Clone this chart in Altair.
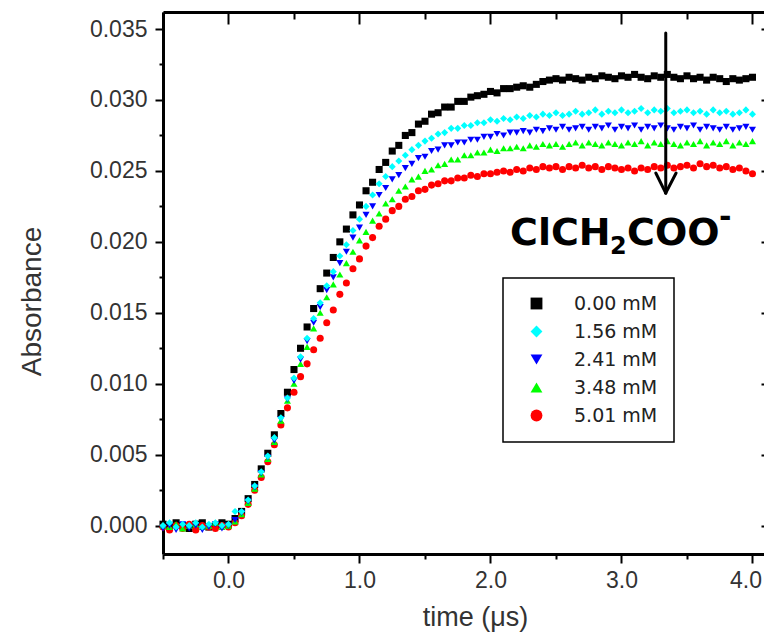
import altair as alt
import pandas as pd

# ---------------- data ----------------
TIME = [-0.50, -0.45, -0.40, -0.35, -0.30, -0.25, -0.20, -0.15, -0.10, -0.05, 0.00,
        0.05, 0.10, 0.15, 0.20, 0.25, 0.30, 0.35, 0.40, 0.45,
        0.50, 0.55, 0.60, 0.65, 0.70, 0.75, 0.80, 0.85, 0.90, 0.95,
        1.00, 1.05, 1.10, 1.15, 1.20, 1.25, 1.30, 1.35, 1.40, 1.45,
        1.50, 1.55, 1.60, 1.65, 1.70, 1.75, 1.80, 1.85, 1.90, 1.95,
        2.00, 2.05, 2.10, 2.15, 2.20, 2.25, 2.30, 2.35, 2.40, 2.45,
        2.50, 2.55, 2.60, 2.65, 2.70, 2.75, 2.80, 2.85, 2.90, 2.95,
        3.00, 3.05, 3.10, 3.15, 3.20, 3.25, 3.30, 3.35, 3.40, 3.45,
        3.50, 3.55, 3.60, 3.65, 3.70, 3.75, 3.80, 3.85, 3.90, 3.95, 4.00]

# absorbance in units of 10^-3
ABS_000 = [0.1, -0.1, 0.2, 0.0, -0.2, 0.1, 0.2, -0.1, 0.0, 0.2, 0.1,
           0.5, 1.0, 1.9, 2.9, 4.0, 5.1, 6.4, 7.9, 9.4,
           11.0, 12.5, 14.0, 15.3, 16.7, 17.8, 18.9, 20.0, 20.9, 21.9,
           22.6, 23.6, 24.2, 25.1, 25.6, 26.4, 26.8, 27.5, 27.7, 28.3,
           28.5, 29.0, 29.1, 29.5, 29.5, 29.9, 29.9, 30.2, 30.3, 30.4,
           30.6, 30.5, 30.8, 30.8, 30.9, 31.0, 30.9, 31.1, 31.3, 31.4,
           31.5, 31.4, 31.6, 31.5, 31.4, 31.6, 31.5, 31.7, 31.6, 31.5,
           31.7, 31.6, 31.8, 31.6, 31.5, 31.7, 31.6, 31.8, 31.6, 31.5,
           31.7, 31.5, 31.6, 31.4, 31.6, 31.5, 31.3, 31.5, 31.4, 31.5, 31.6]
ABS_156 = [0.0, 0.2, -0.1, 0.1, 0.0, 0.2, -0.1, 0.1, 0.2, 0.0, 0.1,
           1.0, 1.0, 1.8, 2.8, 3.8, 4.9, 6.2, 7.6, 9.0,
           10.4, 11.9, 13.2, 14.6, 15.7, 16.9, 17.9, 19.0, 19.8, 20.8,
           21.6, 22.5, 23.3, 24.1, 24.6, 25.3, 25.7, 26.1, 26.5, 26.8,
           27.1, 27.3, 27.6, 27.7, 28.0, 28.0, 28.2, 28.2, 28.4, 28.4,
           28.6, 28.5, 28.7, 28.6, 28.8, 28.7, 28.9, 28.8, 29.0, 28.9,
           29.1, 28.9, 29.0, 29.2, 29.0, 29.1, 29.3, 29.0, 29.2, 29.1,
           29.3, 29.1, 29.2, 29.4, 29.1, 29.3, 29.2, 29.4, 29.1, 29.2,
           29.3, 29.1, 29.2, 29.0, 29.3, 29.1, 29.2, 29.0, 29.1, 29.3, 29.0]
ABS_241 = [-0.2, 0.0, -0.3, 0.1, -0.2, 0.0, -0.3, -0.1, 0.1, -0.2, 0.0,
           0.4, 0.9, 1.7, 2.7, 3.7, 4.8, 6.0, 7.5, 8.9,
           10.2, 11.7, 13.0, 14.3, 15.4, 16.6, 17.5, 18.5, 19.3, 20.3,
           21.0, 21.9, 22.5, 23.3, 23.8, 24.4, 24.7, 25.2, 25.5, 25.9,
           26.0, 26.4, 26.5, 26.8, 26.8, 27.0, 27.0, 27.2, 27.2, 27.4,
           27.4, 27.6, 27.5, 27.7, 27.7, 27.8, 27.7, 27.9, 27.8, 28.0,
           27.9, 28.1, 27.9, 28.0, 28.1, 27.9, 28.1, 28.0, 28.2, 27.9,
           28.1, 28.0, 28.2, 27.9, 28.1, 28.0, 28.2, 28.0, 27.9, 28.1,
           28.0, 28.2, 27.9, 28.1, 28.0, 27.9, 28.1, 27.9, 28.0, 28.1, 27.9]
ABS_348 = [0.0, -0.1, 0.1, -0.2, 0.0, 0.1, -0.1, 0.0, 0.2, -0.1, 0.0,
           0.3, 0.8, 1.6, 2.6, 3.6, 4.7, 5.9, 7.4, 8.8,
           10.0, 11.4, 12.6, 13.9, 15.0, 16.1, 17.0, 17.7, 18.5, 19.3,
           20.1, 20.7, 21.5, 22.0, 22.7, 23.0, 23.6, 23.9, 24.4, 24.6,
           25.0, 25.1, 25.4, 25.5, 25.8, 25.8, 26.1, 26.1, 26.3, 26.3,
           26.5, 26.4, 26.6, 26.6, 26.7, 26.6, 26.8, 26.7, 26.9, 26.8,
           26.9, 26.7, 26.9, 27.0, 26.8, 27.0, 26.9, 26.8, 27.0, 26.9,
           26.8, 27.0, 26.9, 27.1, 26.8, 27.0, 26.9, 27.1, 26.9, 26.8,
           27.0, 26.9, 27.1, 26.8, 27.0, 26.9, 27.1, 26.8, 27.0, 26.9, 27.1]
ABS_501 = [-0.1, -0.3, 0.0, -0.2, 0.1, -0.3, 0.0, -0.1, -0.2, 0.0, -0.1,
           0.2, 0.7, 1.5, 2.5, 3.4, 4.5, 5.7, 7.1, 8.3,
           9.4, 10.5, 11.4, 12.4, 13.2, 14.3, 15.2, 16.3, 17.1, 18.1,
           18.8, 19.7, 20.3, 21.1, 21.6, 22.2, 22.5, 23.0, 23.2, 23.6,
           23.7, 24.0, 24.1, 24.3, 24.3, 24.5, 24.5, 24.7, 24.6, 24.8,
           24.8, 24.9, 25.0, 24.9, 25.1, 25.0, 25.2, 25.1, 25.3, 25.2,
           25.3, 25.1, 25.3, 25.2, 25.4, 25.2, 25.3, 25.1, 25.3, 25.2,
           25.1, 25.2, 25.0, 25.2, 25.1, 25.3, 25.2, 25.4, 25.2, 25.3,
           25.4, 25.2, 25.5, 25.3, 25.4, 25.2, 25.3, 25.1, 25.2, 25.0, 24.8]

SERIES = ["0.00 mM", "1.56 mM", "2.41 mM", "3.48 mM", "5.01 mM"]
COLORS = ["#000000", "#00FFFF", "#0000FF", "#00FF00", "#FF0000"]
SHAPES = ["square", "diamond", "triangle-down", "triangle-up", "circle"]
VALUES = {"0.00 mM": ABS_000, "1.56 mM": ABS_156, "2.41 mM": ABS_241,
          "3.48 mM": ABS_348, "5.01 mM": ABS_501}
DRAW_ORDER = ["0.00 mM", "5.01 mM", "3.48 mM", "2.41 mM", "1.56 mM"]

X_MAJOR = [0, 1, 2, 3, 4]
X_MINOR = [-0.5, 0.5, 1.5, 2.5, 3.5]
Y_MAJOR = [0.000, 0.005, 0.010, 0.015, 0.020, 0.025, 0.030, 0.035]
Y_MINOR = [0.0025, 0.0075, 0.0125, 0.0175, 0.0225, 0.0275, 0.0325]

# annotation (arrow + label) in data coordinates
ARROW_X1 = [3.338, 3.262, 3.417]
ARROW_Y1 = [0.03472, 0.02485, 0.02485]
ARROW_X2 = [3.338, 3.338, 3.338]
ARROW_Y2 = [0.02344, 0.02344, 0.02344]
LABEL_TEXT = ["ClCH", "2", "COO", "-"]
LABEL_X = [2.149, 2.913, 3.043, 3.745]
LABEL_Y = [0.019778, 0.019144, 0.019778, 0.021012]
LABEL_SIZE = [38, 24, 38, 30]

# ---------------- build tables ----------------
rows = []
for name in DRAW_ORDER:
    for t, v in zip(TIME, VALUES[name]):
        rows.append({"time": t, "absorbance": v / 1000.0, "conc": name})
df = pd.DataFrame(rows)

arrow_df = pd.DataFrame({"x": ARROW_X1, "y": ARROW_Y1, "x2": ARROW_X2, "y2": ARROW_Y2})
label_df = pd.DataFrame({"text": LABEL_TEXT, "x": LABEL_X, "y": LABEL_Y, "fs": LABEL_SIZE})

xs = alt.Scale(domain=[-0.5, 4.088], nice=False, zero=False)
ys = alt.Scale(domain=[-0.002, 0.0362], nice=False, zero=False)

legend = alt.Legend(
    title=None, orient="none", legendX=340, legendY=266,
    padding=16, strokeColor="black", fillColor="white",
    symbolSize=140, symbolStrokeWidth=0, symbolOffset=8,
    labelFont="DejaVu Sans", labelFontSize=19, labelColor="#222222",
    labelOffset=28, rowPadding=8, cornerRadius=0,
)

points = alt.Chart(df).mark_point(filled=True, size=50, opacity=1).encode(
    x=alt.X("time:Q", scale=xs, axis=alt.Axis(
        orient="bottom", values=X_MAJOR, format=".1f", tickSize=9, labelPadding=6,
        domain=True, labelFlush=False, labelOverlap=False,
        labelOffset={"condition": {"test": "datum.value >= 4", "value": -7}, "value": 0},
        title="time (μs)", titleX=312, titleY=71, titleAlign="center",
        titleBaseline="alphabetic", titleFontSize=27)),
    y=alt.Y("absorbance:Q", scale=ys, axis=alt.Axis(
        orient="left", values=Y_MAJOR, format=".3f", tickSize=8, labelPadding=8,
        domain=True, labelFlush=False, labelOverlap=False,
        title="Absorbance", titleX=-123, titleY=289, titleAngle=270,
        titleAlign="center", titleBaseline="alphabetic")),
    color=alt.Color("conc:N", scale=alt.Scale(domain=SERIES, range=COLORS), legend=legend),
    shape=alt.Shape("conc:N", scale=alt.Scale(domain=SERIES, range=SHAPES), legend=legend),
)

base = df.head(2)


def ghost(xaxis, yaxis):
    return alt.Chart(base).mark_point(opacity=0).encode(
        x=alt.X("time:Q", scale=xs, axis=xaxis),
        y=alt.Y("absorbance:Q", scale=ys, axis=yaxis),
    )


minor_bl = ghost(
    alt.Axis(orient="bottom", values=X_MINOR, tickSize=5, labels=False, domain=False, title=None),
    alt.Axis(orient="left", values=Y_MINOR, tickSize=4, labels=False, domain=False, title=None),
)
top_line = ghost(
    alt.Axis(orient="top", ticks=False, labels=False, domain=True, title=None),
    None,
)
top_major = ghost(
    alt.Axis(orient="top", values=X_MAJOR, offset=-12, tickSize=12, labels=False, domain=False, title=None),
    alt.Axis(orient="right", values=Y_MAJOR, offset=-3, tickSize=3, labels=False, domain=False, title=None),
)
top_minor = ghost(
    alt.Axis(orient="top", values=X_MINOR, offset=-7, tickSize=7, labels=False, domain=False, title=None),
    None,
)

arrow = alt.Chart(arrow_df).mark_rule(color="black", strokeWidth=3, strokeCap="round").encode(
    x=alt.X("x:Q", scale=xs, axis=None),
    y=alt.Y("y:Q", scale=ys, axis=None),
    x2="x2:Q",
    y2="y2:Q",
)

label = alt.Chart(label_df).mark_text(
    align="left", baseline="alphabetic", font="DejaVu Sans", fontWeight="bold", color="black"
).encode(
    x=alt.X("x:Q", scale=xs, axis=None),
    y=alt.Y("y:Q", scale=ys, axis=None),
    text="text:N",
    size=alt.Size("fs:Q", scale=None),
)

chart = alt.layer(points, minor_bl, top_line, top_major, top_minor, arrow, label).resolve_axis(
    x="independent", y="independent"
).properties(
    width=601, height=542,
    padding={"left": 155, "top": 4, "right": 0, "bottom": 78},
    autosize=alt.AutoSizeParams(type="none"),
).configure_view(stroke=None).configure_axis(
    grid=False, domainColor="black", domainWidth=3, tickColor="black", tickWidth=2,
    labelFont="Liberation Sans", labelFontSize=23, labelColor="#333333",
    titleFont="Liberation Sans", titleFontSize=28, titleFontWeight="normal", titleColor="#333333",
).configure_legend(strokeWidth=1.5)

chart.save("out.html", embed_options={"renderer": "svg", "actions": False})
